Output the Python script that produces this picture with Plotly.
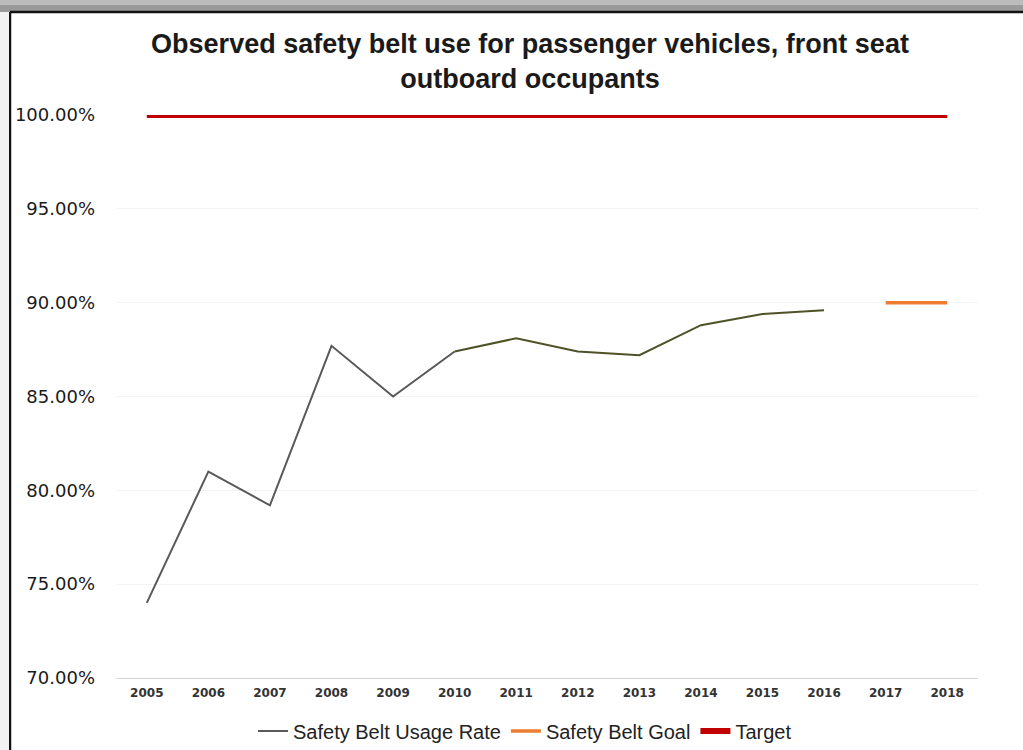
import plotly.graph_objects as go

# Observed front-seat outboard safety belt use, with goal and target levels
years = ["2005", "2006", "2007", "2008", "2009", "2010", "2011",
         "2012", "2013", "2014", "2015", "2016", "2017", "2018"]

usage_years_early = ["2005", "2006", "2007", "2008", "2009", "2010"]
usage_rate_early = [74.0, 81.0, 79.2, 87.7, 85.0, 87.4]

usage_years_late = ["2010", "2011", "2012", "2013", "2014", "2015", "2016"]
usage_rate_late = [87.4, 88.1, 87.4, 87.2, 88.8, 89.4, 89.6]

goal_years = ["2017", "2018"]
goal_rate = [90.0, 90.0]

target_years = years
target_rate = [100.0] * len(years)

y_ticks = [70, 75, 80, 85, 90, 95, 100]
y_tick_text = ["70.00%", "75.00%", "80.00%", "85.00%", "90.00%", "95.00%", "100.00%"]

W, H = 1023, 750
ML, MR, MT, MB = 116, 45, 115, 72
PW, PH = W - ML - MR, H - MT - MB


def px_x(px):
    return (px - ML) / PW


def px_y(py):
    return (H - MB - py) / PH


fig = go.Figure()

fig.add_trace(go.Scatter(
    x=target_years, y=target_rate, mode="lines", name="Target",
    line=dict(color="#C00000", width=6), legendrank=3,
))
fig.add_trace(go.Scatter(
    x=goal_years, y=goal_rate, mode="lines", name="Safety Belt Goal",
    line=dict(color="#ED7D31", width=3.5), legendrank=2,
))
fig.add_trace(go.Scatter(
    x=usage_years_early, y=usage_rate_early, mode="lines",
    name="Safety Belt Usage Rate", legendgroup="usage", legendrank=1,
    line=dict(color="#595959", width=2),
))
fig.add_trace(go.Scatter(
    x=usage_years_late, y=usage_rate_late, mode="lines",
    name="Safety Belt Usage Rate", legendgroup="usage", showlegend=False,
    line=dict(color="#4E5226", width=2),
))

# window frame: grey bar at the top, dark border on top and left
shapes = [
    dict(type="rect", xref="paper", yref="paper",
         x0=px_x(0), x1=px_x(W), y0=px_y(12), y1=px_y(0),
         fillcolor="#9a9a9a", line=dict(width=0), layer="above"),
    dict(type="rect", xref="paper", yref="paper",
         x0=px_x(0), x1=px_x(W), y0=px_y(5), y1=px_y(0),
         fillcolor="#bcbcbc", line=dict(width=0), layer="above"),
    dict(type="line", xref="paper", yref="paper",
         x0=px_x(10), x1=px_x(W), y0=px_y(12), y1=px_y(12),
         line=dict(color="#111111", width=2.5), layer="above"),
    dict(type="line", xref="paper", yref="paper",
         x0=px_x(10), x1=px_x(10), y0=px_y(12), y1=px_y(H),
         line=dict(color="#111111", width=2.5), layer="above"),
    dict(type="rect", xref="paper", yref="paper",
         x0=px_x(0), x1=px_x(9), y0=px_y(H), y1=px_y(12),
         fillcolor="#f2f2f2", line=dict(width=0), layer="above"),
]

fig.update_layout(
    width=W, height=H,
    margin=dict(l=ML, r=MR, t=MT, b=MB, autoexpand=False),
    paper_bgcolor="white", plot_bgcolor="white",
    font=dict(family="Liberation Sans, Arial", color="#222222"),
    title=dict(
        text="<b>Observed safety belt use for passenger vehicles, front seat<br>outboard occupants</b>",
        x=px_x(530), xref="paper", xanchor="center",
        y=1 - 53 / H, yanchor="middle",
        font=dict(size=27, color="#1a1a1a"),
    ),
    xaxis=dict(
        type="category", categoryorder="array", categoryarray=years,
        range=[-0.5, len(years) - 0.5],
        showgrid=False, showline=True, linecolor="#d4d4d4", linewidth=1.2,
        ticks="", tickfont=dict(size=12, family="DejaVu Sans", color="#333333", weight="bold"),
        ticklabelstandoff=3,
    ),
    yaxis=dict(
        range=[70, 100], tickvals=y_ticks, ticktext=y_tick_text,
        showgrid=True, gridcolor="#f4f4f4", zeroline=False, showline=False,
        ticks="", tickfont=dict(size=18, family="DejaVu Sans", color="#1a1a1a"),
        ticklabelstandoff=20,
    ),
    legend=dict(
        orientation="h", x=px_x(525), xanchor="center",
        yref="container", y=(H - 731) / H, yanchor="middle",
        font=dict(size=20, color="#222222"), itemwidth=30, traceorder="normal",
        bgcolor="rgba(0,0,0,0)",
    ),
    shapes=shapes,
    showlegend=True,
)

fig.write_html("out.html")
